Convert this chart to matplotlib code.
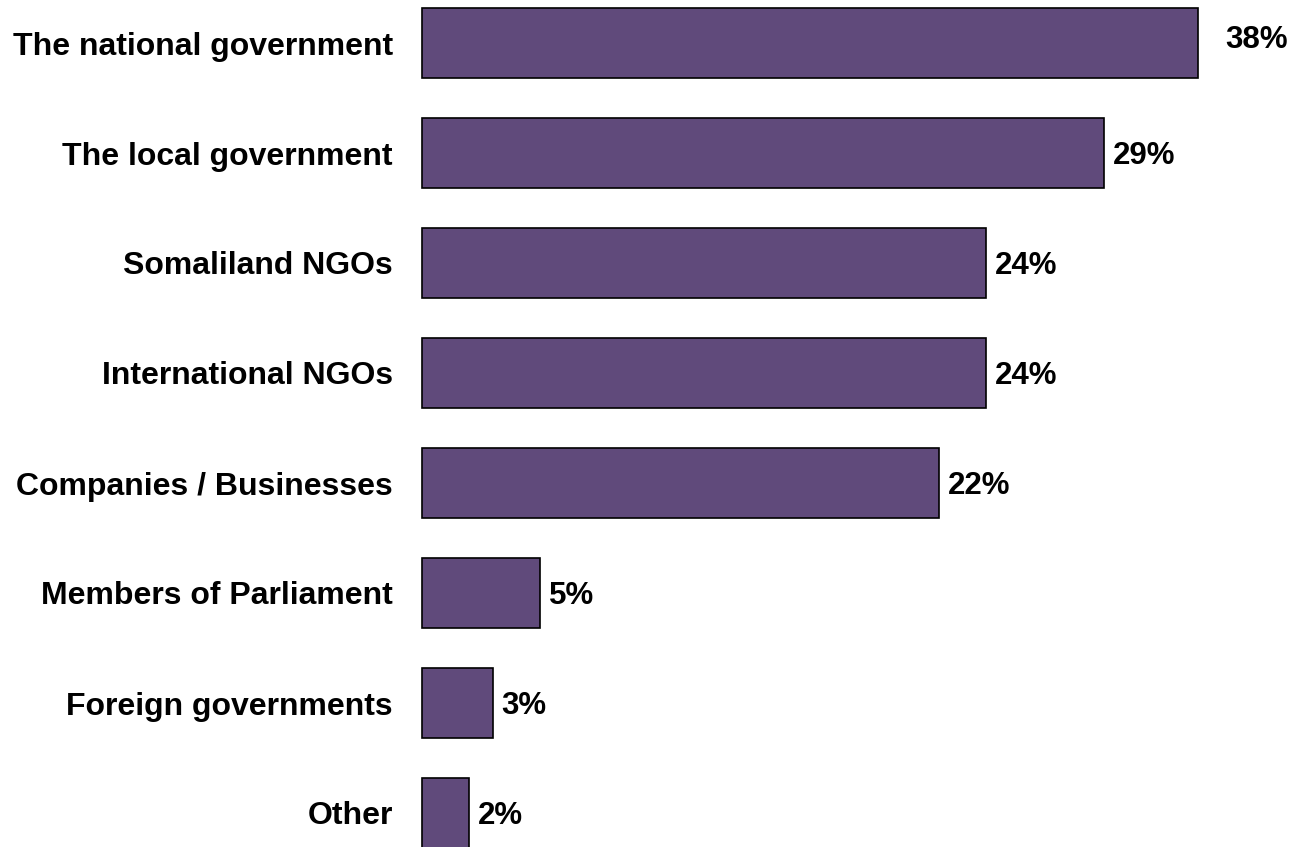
import numpy as np
import matplotlib
matplotlib.use('Agg')
import matplotlib.pyplot as plt

# survey shares (%), top to bottom
categories = ['The national government', 'The local government', 'Somaliland NGOs',
              'International NGOs', 'Companies / Businesses', 'Members of Parliament',
              'Foreign governments', 'Other']
shares = [38, 29, 24, 24, 22, 5, 3, 2]
value_labels = ['38%', '29%', '24%', '24%', '22%', '5%', '3%', '2%']

x_max = 33  # axis is cut here, longest bar is shortened to fit

plt.rcParams['font.family'] = ['Liberation Sans', 'DejaVu Sans']
plt.rcParams['font.weight'] = 'bold'

fig = plt.figure(figsize=(12.9, 8.47), dpi=100)
ax = fig.add_axes([422 / 1290, 0, 776 / 1290, 1])

pos = np.arange(len(categories))
drawn = np.minimum(shares, x_max)
bars = ax.barh(pos, drawn, height=0.636, color='#604A7B', edgecolor='black', linewidth=1.2)
for b in bars:
    b.set_clip_on(False)

ax.set_xlim(0, x_max)
ax.set_ylim((847 - 43) / 110, -43 / 110)

ax.set_yticks(pos)
ax.set_yticklabels(categories, fontsize=23, fontweight='bold')
ax.tick_params(axis='y', length=0, pad=21)
ax.set_xticks([])
for s in ax.spines.values():
    s.set_visible(False)

for i, (v, d, lab) in enumerate(zip(shares, drawn, value_labels)):
    if v > x_max:
        off = (27 * 0.72, 2)
    else:
        off = (9 * 0.72, -2)
    ax.annotate(lab, xy=(d, i), xytext=off, textcoords='offset points',
                ha='left', va='center', fontsize=22.5, fontweight='bold',
                annotation_clip=False)

fig.savefig('out.png', dpi=100)
